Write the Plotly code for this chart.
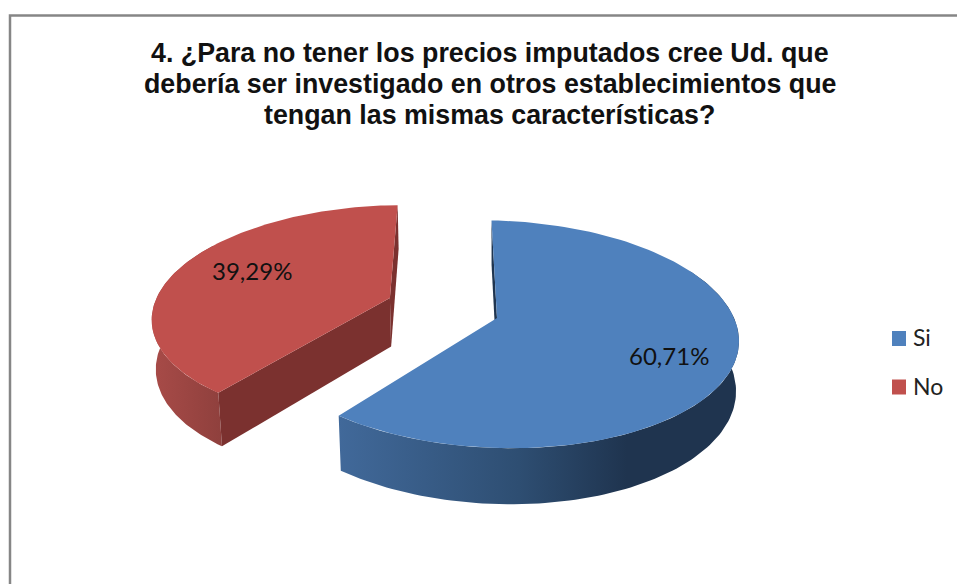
import numpy as np
import plotly.graph_objects as go

title_lines = [
    "4. ¿Para no tener los precios imputados cree Ud. que",
    "debería ser investigado en otros establecimientos que",
    "tengan las mismas características?",
]
categories = ["Si", "No"]
values = [60.71, 39.29]
value_labels = ["60,71%", "39,29%"]

# look of the tilted pie, in pixels of the page
CX, CY = 497, 318
RX, RY = 239.5, 111.4
DEPTH = 50.3
PERSP = 0.143
PERSP_LOW = 0.012
START_ANGLE = -1.5
BLUE_END_TRIM = 1.3
EXPLODE = [(0, 0), (-0.459, -0.185)]
TILT = [0.028, 0]

TOP_COLORS = ["#4F81BD", "#C0504D"]
WALL_COLORS = ["#1F3550", "#7B312F"]
SIDE_SCALES = [
    [[0, "#41699A"], [0.45, "#2E4E72"], [0.72, "#1F344F"], [1, "#1F344F"]],
    [[0, "#A84B48"], [1, "#8F403D"]],
]

PAGE_W, PAGE_H = 957, 584


def project(theta, r, i, low=False):
    # theta in degrees clockwise from the back of the pie
    t = np.radians(theta)
    wx = EXPLODE[i][0] + r * np.sin(t)
    wy = EXPLODE[i][1] - r * np.cos(t)
    if low:
        s = 1 / (1 - PERSP * wy + PERSP_LOW)
        x, y = CX + RX * wx * s, CY + (RY * wy + DEPTH) * s
    else:
        s = 1 / (1 - PERSP * wy)
        x, y = CX + RX * wx * s, CY + RY * wy * s
    return x, y + TILT[i] * (x - CX)


def arc(a0, a1, i, low=False):
    return project(np.linspace(a0, a1, 120), 1.0, i, low)


def poly(x, y, color=None, scale=None):
    trace = dict(x=list(x), y=list(y), mode="lines", fill="toself", line=dict(width=0),
                 hoverinfo="skip", showlegend=False)
    if scale:
        trace["fillgradient"] = dict(type="horizontal", colorscale=scale)
    else:
        trace["fillcolor"] = color
    return go.Scatter(**trace)


def wall(angle, i):
    rim_x, rim_y = project(angle, 1.0, i)
    rim_lx, rim_ly = project(angle, 1.0, i, True)
    mid_x, mid_y = project(angle, 0.0, i)
    mid_lx, mid_ly = project(angle, 0.0, i, True)
    return poly([rim_x, mid_x, mid_lx, rim_lx], [rim_y, mid_y, mid_ly, rim_ly], WALL_COLORS[i])


angles = np.cumsum([0] + values) / sum(values) * 360 + START_ANGLE
spans = list(zip(angles[:-1], angles[1:]))

fig = go.Figure()

# red slice first, it sits behind the blue one
(b0, b1), (r0, r1) = spans
b1 = b1 - BLUE_END_TRIM
fig.add_trace(wall(r1, 1))
tx, ty = arc(r0, r0 + 85, 1)
bx, by = arc(r0, r0 + 85, 1, True)
fig.add_trace(poly(np.r_[tx, bx[::-1]], np.r_[ty, by[::-1]], scale=SIDE_SCALES[1]))
fig.add_trace(wall(r0, 1))
ax, ay = arc(r0, r1, 1)
ox, oy = project(r0, 0.0, 1)
fig.add_trace(poly(np.r_[ox, ax], np.r_[oy, ay], TOP_COLORS[1]))

fig.add_trace(wall(b0, 0))
tx, ty = arc(60, b1, 0)
bx, by = arc(60, b1, 0, True)
fig.add_trace(poly(np.r_[tx, bx[::-1]], np.r_[ty, by[::-1]], scale=SIDE_SCALES[0]))
ax, ay = arc(b0, b1, 0)
ox, oy = project(b0, 0.0, 0)
fig.add_trace(poly(np.r_[ox, ax], np.r_[oy, ay], TOP_COLORS[0]))

# data labels sit near the middle of each slice
label_shift = [(-5, -6), (20, 4)]
for i, text in enumerate(value_labels):
    mid = sum(spans[i]) / 2
    lx, ly = project(mid, 0.75, i)
    fig.add_annotation(x=lx, y=ly, text=text, showarrow=False, xshift=label_shift[i][0],
                       yshift=label_shift[i][1], font=dict(family="Lato", size=24, color="#111111"))

# title, one annotation per line because the line spacing is tighter than plotly's
for i, line in enumerate(title_lines):
    fig.add_annotation(x=489.5, y=53 + i * 31, text=f"<b>{line}</b>", showarrow=False,
                       font=dict(family="Liberation Sans", size=26.8, color="#111111"))

# legend, drawn by hand since the swatch sits closer to the text than plotly allows
for i, (name, color) in enumerate(zip(categories, TOP_COLORS)):
    ly = 338.5 + i * 48.5
    fig.add_shape(type="rect", x0=892, x1=906, y0=ly - 7.5, y1=ly + 7.5, fillcolor=color, line=dict(width=0))
    fig.add_annotation(x=911, y=ly - 1.5, text=name, showarrow=False, xanchor="left",
                       font=dict(family="Lato", size=23, color="#222222"))

# outer frame runs off the right and bottom of the picture
fig.add_shape(type="rect", x0=10, y0=15.5, x1=1100, y1=800, line=dict(color="#868686", width=2.5))

fig.update_layout(
    width=PAGE_W,
    height=PAGE_H,
    margin=dict(l=0, r=0, t=0, b=0),
    paper_bgcolor="white",
    plot_bgcolor="white",
    showlegend=False,
    xaxis=dict(range=[0, PAGE_W], visible=False, fixedrange=True),
    yaxis=dict(range=[PAGE_H, 0], visible=False, fixedrange=True),
)

# no body margin or scrollbar gutter, so the plot fills the window
fig.write_html(
    "out.html",
    config={"displayModeBar": False},
    default_width=f"{PAGE_W}px",
    default_height=f"{PAGE_H}px",
    post_script="document.body.style.margin='0';document.documentElement.style.overflow='hidden';",
)
